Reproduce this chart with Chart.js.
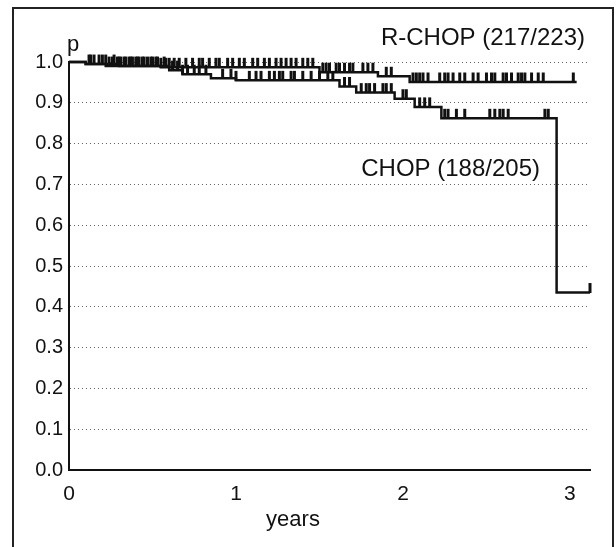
<!DOCTYPE html>
<html>
<head>
<meta charset="utf-8">
<script src="https://cdn.jsdelivr.net/npm/chart.js@4.4.1/dist/chart.umd.min.js"></script>
<style>
  html, body { margin:0; padding:0; background:#fff; }
  #frame {
    position:absolute; left:12px; top:7px; width:598px; height:545px;
    border-left:2px solid #222; border-top:2px solid #222; border-right:2px solid #222;
  }
  #wrap { position:absolute; left:0; top:0; width:616px; height:547px; }
</style>
</head>
<body>
<div id="frame"></div>
<div id="wrap"><canvas id="km" width="616" height="547"></canvas></div>
<script>
// ---------- data ----------
// step functions: time (years) where the curve changes, and survival after it
const rchopTimes = [0, 0.1, 0.22, 0.55, 1.5, 1.85, 2.04, 3.04];
const rchopSurv  = [1.0, 0.995, 0.99, 0.987, 0.975, 0.965, 0.951, 0.951];

const chopTimes = [0, 0.1, 0.3, 0.6, 0.68, 0.85, 1.0, 1.62, 1.72, 1.95, 2.07, 2.23, 2.92, 3.12];
const chopSurv  = [1.0, 0.995, 0.99, 0.98, 0.97, 0.96, 0.955, 0.94, 0.925, 0.91, 0.89, 0.862, 0.435, 0.435];

// censored patients (tick marks)
const rchopCensor = [0.12, 0.15, 0.2, 0.24, 0.26, 0.29, 0.31, 0.33, 0.36, 0.38, 0.4, 0.42, 0.44, 0.47,
  0.49, 0.52, 0.55, 0.58, 0.6, 0.63, 0.66, 0.7, 0.74, 0.78, 0.8, 0.84, 0.88, 0.9, 0.95, 0.98, 1.02,
  1.05, 1.1, 1.13, 1.17, 1.2, 1.24, 1.27, 1.3, 1.33, 1.36, 1.4, 1.43, 1.46, 1.52, 1.54, 1.56, 1.6,
  1.62, 1.65, 1.68, 1.7, 1.76, 1.79, 1.82, 1.9, 1.93, 2.06, 2.08, 2.1, 2.12, 2.15, 2.22, 2.25, 2.27,
  2.3, 2.34, 2.37, 2.42, 2.45, 2.5, 2.53, 2.55, 2.6, 2.62, 2.65, 2.69, 2.71, 2.73, 2.77, 2.81, 2.84, 3.02];
const chopCensor = [0.13, 0.18, 0.22, 0.27, 0.3, 0.34, 0.37, 0.41, 0.45, 0.5, 0.53, 0.57, 0.62, 0.65,
  0.68, 0.71, 0.75, 0.78, 0.82, 0.92, 0.97, 1.0, 1.08, 1.12, 1.15, 1.2, 1.23, 1.26, 1.28, 1.33, 1.35,
  1.4, 1.45, 1.5, 1.55, 1.58, 1.65, 1.68, 1.75, 1.78, 1.8, 1.83, 1.88, 1.9, 1.93, 2.0, 2.02, 2.1,
  2.13, 2.16, 2.25, 2.27, 2.32, 2.37, 2.52, 2.55, 2.58, 2.6, 2.63, 2.85, 2.87, 3.12];

const yTicks = [0, 0.1, 0.2, 0.3, 0.4, 0.5, 0.6, 0.7, 0.8, 0.9, 1.0];
const xTicks = [0, 1, 2, 3];
const labels = { rchop: 'R-CHOP (217/223)', chop: 'CHOP (188/205)', yTitle: 'p', xTitle: 'years' };

// ---------- helpers ----------
function toPoints(times, surv){
  return times.map((t,i)=>({x:t, y:surv[i]}));
}
function survAt(times, surv, t){
  let s = surv[0];
  for(let i=0;i<times.length;i++){
    if(times[i] <= t) s = surv[i];
  }
  return s;
}
function censorPoints(list, times, surv){
  // tick sits on top of the line
  return list.map(t=>({x:t, y:survAt(times, surv, t) + 0.011}));
}

const FONT = '"Liberation Sans", Arial, Helvetica, sans-serif';

const textPlugin = {
  id:'texts',
  afterDraw(chart){
    const ctx = chart.ctx;
    ctx.save();
    ctx.fillStyle = '#111';
    ctx.textBaseline = 'alphabetic';
    ctx.font = '24px ' + FONT;
    ctx.textAlign = 'right';
    ctx.fillText(labels.rchop, 585, 45);
    ctx.fillText(labels.chop, 540, 176);
    ctx.font = '22px ' + FONT;
    ctx.textAlign = 'left';
    ctx.fillText(labels.yTitle, 67, 51);
    ctx.textAlign = 'center';
    ctx.fillText(labels.xTitle, 293, 526);
    ctx.restore();
  }
};

const tickStyle = {
  pointStyle:'line', rotation:90, pointRadius:5, pointHoverRadius:5,
  borderColor:'#111', borderWidth:3, showLine:false
};

new Chart(document.getElementById('km'), {
  type:'scatter',
  data:{
    datasets:[
      { data: toPoints(rchopTimes, rchopSurv), showLine:true, stepped:true,
        borderColor:'#111', borderWidth:2.5, pointRadius:0, clip:false },
      { data: toPoints(chopTimes, chopSurv), showLine:true, stepped:true,
        borderColor:'#111', borderWidth:2.5, pointRadius:0, clip:false },
      Object.assign({ data: censorPoints(rchopCensor, rchopTimes, rchopSurv), clip:false }, tickStyle),
      Object.assign({ data: censorPoints(chopCensor, chopTimes, chopSurv), clip:false }, tickStyle)
    ]
  },
  options:{
    responsive:false,
    animation:false,
    devicePixelRatio:1,
    layout:{ padding:{ top:62, right:26, left:0, bottom:0 } },
    plugins:{ legend:{display:false}, tooltip:{enabled:false} },
    scales:{
      x:{
        type:'linear', min:0, max:3.12,
        afterBuildTicks(scale){ scale.ticks = xTicks.map(v=>({value:v})); },
        afterFit(scale){ scale.height = 77; },
        grid:{ display:false, drawTicks:false },
        border:{ display:true, color:'#111', width:2 },
        ticks:{ color:'#111', font:{ family:FONT, size:21 }, padding:12, maxRotation:0 }
      },
      y:{
        type:'linear', min:0, max:1,
        afterBuildTicks(scale){ scale.ticks = yTicks.map(v=>({value:v})); },
        afterFit(scale){ scale.width = 69; },
        grid:{ color:'#666', lineWidth:1, drawTicks:false },
        border:{ display:true, color:'#111', width:2, dash:[1,3] },
        ticks:{ color:'#111', font:{ family:FONT, size:20 }, padding:6,
                callback:v=>v.toFixed(1) }
      }
    }
  },
  plugins:[textPlugin]
});
</script>
</body>
</html>
